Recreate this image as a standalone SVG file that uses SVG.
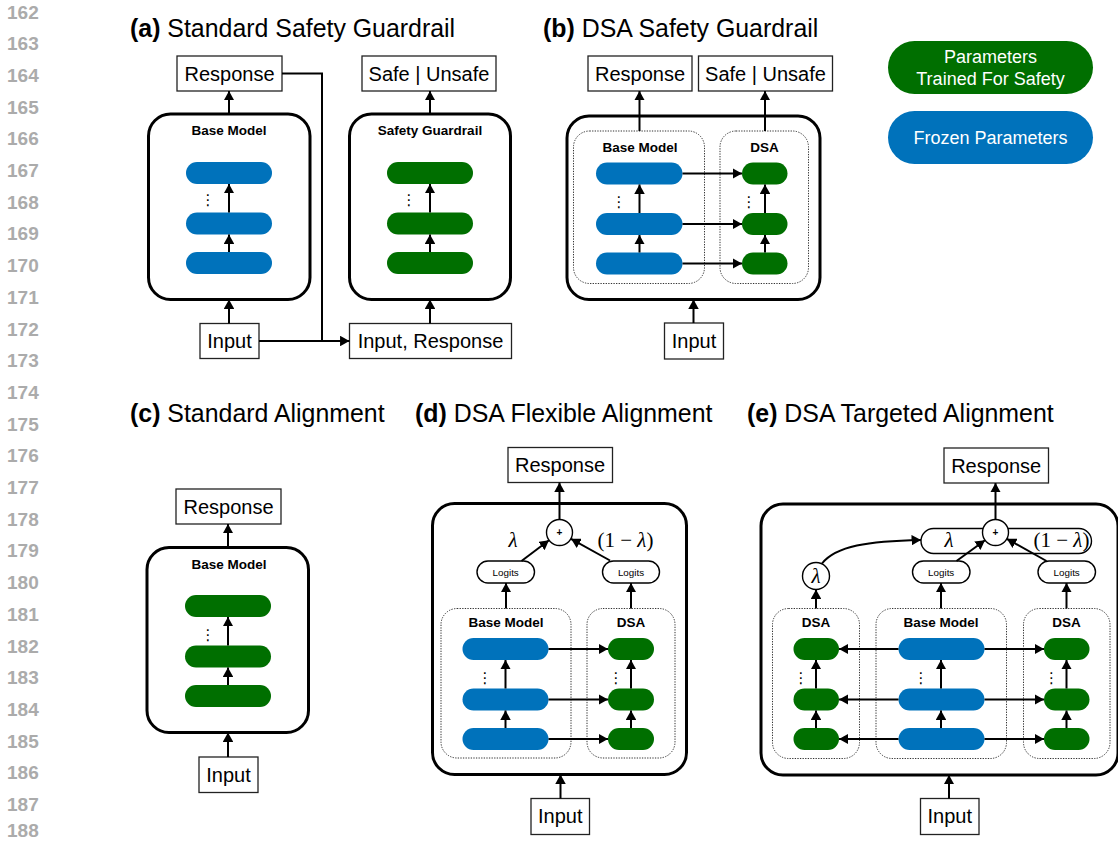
<svg xmlns="http://www.w3.org/2000/svg" width="1118" height="841" viewBox="0 0 1118 841">
<defs>
<marker id="ah" viewBox="0 0 9 10" markerUnits="userSpaceOnUse" markerWidth="9.5" markerHeight="10.5" refX="9" refY="5" orient="auto">
<path d="M0,0 L9,5 L0,10 z" fill="#000"/>
</marker>
<style>
text{font-family:"Liberation Sans",Arial,Helvetica,sans-serif;fill:#000}
.ln{font-weight:bold;font-size:19px;fill:#ababab}
.title{font-size:24.9px}
.title tspan.b{font-weight:bold}
.box{fill:#fff;stroke:#222;stroke-width:1.3}
.bt{font-size:20px;text-anchor:middle}
.cont{fill:#fff;stroke:#000;stroke-width:3}
.dotbox{fill:none;stroke:#333;stroke-width:1;stroke-dasharray:1.3 1.3}
.lbl{font-weight:bold;font-size:13.5px;text-anchor:middle}
.blue{fill:#0072BB}
.green{fill:#006F00}
.arr{stroke:#000;stroke-width:2;fill:none;marker-end:url(#ah)}
.line{stroke:#000;stroke-width:2;fill:none}
.logit{fill:#fff;stroke:#000;stroke-width:1.4}
.lt{font-size:9.8px;text-anchor:middle}
.gk{font-family:"Liberation Serif","Times New Roman",serif;font-style:italic;font-size:21px}
.gr{font-family:"Liberation Serif","Times New Roman",serif;font-size:21px}
.vd{font-family:"DejaVu Sans",sans-serif;font-size:15px;text-anchor:middle;fill:#000}
.plus{font-size:10px;font-weight:bold;text-anchor:middle}
.leg{font-size:18px;fill:#fff;text-anchor:middle}
</style>
</defs>
<rect width="1118" height="841" fill="#fff"/>

<g id="line-numbers">
<text class="ln" x="7" y="18.5">162</text>
<text class="ln" x="7" y="50.2">163</text>
<text class="ln" x="7" y="81.9">164</text>
<text class="ln" x="7" y="113.6">165</text>
<text class="ln" x="7" y="145.3">166</text>
<text class="ln" x="7" y="177">167</text>
<text class="ln" x="7" y="208.7">168</text>
<text class="ln" x="7" y="240.4">169</text>
<text class="ln" x="7" y="272.1">170</text>
<text class="ln" x="7" y="303.8">171</text>
<text class="ln" x="7" y="335.5">172</text>
<text class="ln" x="7" y="367.2">173</text>
<text class="ln" x="7" y="398.9">174</text>
<text class="ln" x="7" y="430.6">175</text>
<text class="ln" x="7" y="462.3">176</text>
<text class="ln" x="7" y="494">177</text>
<text class="ln" x="7" y="525.7">178</text>
<text class="ln" x="7" y="557.4">179</text>
<text class="ln" x="7" y="589.1">180</text>
<text class="ln" x="7" y="620.8">181</text>
<text class="ln" x="7" y="652.5">182</text>
<text class="ln" x="7" y="684.2">183</text>
<text class="ln" x="7" y="715.9">184</text>
<text class="ln" x="7" y="747.6">185</text>
<text class="ln" x="7" y="779.3">186</text>
<text class="ln" x="7" y="811">187</text>
<text class="ln" x="7" y="836.5">188</text>
</g>

<g id="titles">
<text class="title" x="130" y="37"><tspan class="b">(a)</tspan> Standard Safety Guardrail</text>
<text class="title" x="543" y="37"><tspan class="b">(b)</tspan> DSA Safety Guardrail</text>
<text class="title" x="130" y="422"><tspan class="b">(c)</tspan> Standard Alignment</text>
<text class="title" x="415" y="422"><tspan class="b">(d)</tspan> DSA Flexible Alignment</text>
<text class="title" x="747" y="422"><tspan class="b">(e)</tspan> DSA Targeted Alignment</text>
</g>

<g id="legend">
<g id="legend-trained">
<rect x="888" y="41" width="205" height="53" rx="26.5" class="green"/>
<text class="leg" x="990.5" y="63">Parameters</text>
<text class="leg" x="990.5" y="85">Trained For Safety</text>
</g>
<g id="legend-frozen">
<rect x="888" y="111" width="205" height="53" rx="26.5" class="blue"/>
<text class="leg" x="990.5" y="143.5">Frozen Parameters</text>
</g>
</g>

<!-- ================= Panel (a) ================= -->
<g id="a-response"><rect class="box" x="177" y="56" width="105" height="35"/><text class="bt" x="229.5" y="80.5">Response</text></g>
<g id="a-base-model">
<rect class="cont" x="148.5" y="114" width="161.5" height="185.5" rx="22"/>
<text class="lbl" x="229" y="135">Base Model</text>
<rect class="blue" x="186" y="162" width="86" height="22" rx="11"/>
<rect class="blue" x="186" y="212.5" width="86" height="22" rx="11"/>
<rect class="blue" x="186" y="252" width="86" height="22" rx="11"/>
<text class="vd" x="208" y="205">⋮</text>
</g>
<g id="a-input"><rect class="box" x="200" y="323.5" width="59" height="35"/><text class="bt" x="229.5" y="348">Input</text></g>
<g id="a-safety-guardrail">
<rect class="cont" x="349.5" y="114" width="161" height="185.5" rx="22"/>
<text class="lbl" x="430" y="135">Safety Guardrail</text>
<rect class="green" x="387" y="162" width="86" height="22" rx="11"/>
<rect class="green" x="387" y="212.5" width="86" height="22" rx="11"/>
<rect class="green" x="387" y="252" width="86" height="22" rx="11"/>
<text class="vd" x="409" y="205">⋮</text>
</g>
<g id="a-safe-unsafe"><rect class="box" x="362" y="56" width="134" height="35"/><text class="bt" x="429" y="80.5">Safe | Unsafe</text></g>
<g id="a-input-response"><rect class="box" x="349.5" y="323.5" width="162" height="35"/><text class="bt" x="430.5" y="348">Input, Response</text></g>

<!-- ================= Panel (b) ================= -->
<g id="b-response"><rect class="box" x="588" y="56" width="104" height="35"/><text class="bt" x="640" y="80.5">Response</text></g>
<g id="b-safe-unsafe"><rect class="box" x="698.5" y="56" width="134" height="35"/><text class="bt" x="765.5" y="80.5">Safe | Unsafe</text></g>
<g id="b-container">
<rect class="cont" x="567" y="116" width="253" height="183.5" rx="22"/>
</g>
<g id="b-base-model">
<rect class="dotbox" x="573.5" y="131" width="131" height="152.5" rx="16"/>
<text class="lbl" x="640" y="152">Base Model</text>
<rect class="blue" x="596" y="162.5" width="86.5" height="22" rx="11"/>
<rect class="blue" x="596" y="213" width="86.5" height="22" rx="11"/>
<rect class="blue" x="596" y="252.5" width="86.5" height="22" rx="11"/>
<text class="vd" x="619" y="207">⋮</text>
</g>
<g id="b-dsa">
<rect class="dotbox" x="720" y="131" width="88.5" height="152.5" rx="16"/>
<text class="lbl" x="764.5" y="152">DSA</text>
<rect class="green" x="742" y="162.5" width="45.5" height="22" rx="11"/>
<rect class="green" x="742" y="213" width="45.5" height="22" rx="11"/>
<rect class="green" x="742" y="252.5" width="45.5" height="22" rx="11"/>
<text class="vd" x="749" y="207">⋮</text>
</g>
<g id="b-input"><rect class="box" x="664.5" y="323" width="59" height="36"/><text class="bt" x="694" y="348">Input</text></g>

<!-- ================= Panel (c) ================= -->
<g id="c-response"><rect class="box" x="176" y="489" width="105" height="35"/><text class="bt" x="228.5" y="513.5">Response</text></g>
<g id="c-base-model">
<rect class="cont" x="147" y="547.5" width="161.5" height="185" rx="22"/>
<text class="lbl" x="229" y="569">Base Model</text>
<rect class="green" x="185" y="595" width="86" height="22" rx="11"/>
<rect class="green" x="185" y="645.5" width="86" height="22" rx="11"/>
<rect class="green" x="185" y="685" width="86" height="22" rx="11"/>
<text class="vd" x="208" y="640">⋮</text>
</g>
<g id="c-input"><rect class="box" x="199" y="757" width="59" height="35.5"/><text class="bt" x="228.5" y="782">Input</text></g>

<!-- ================= Panel (d) ================= -->
<g id="d-response"><rect class="box" x="508" y="447.5" width="104.5" height="35"/><text class="bt" x="560" y="472">Response</text></g>
<g id="d-container">
<rect class="cont" x="432.5" y="503.5" width="254" height="271" rx="22"/>
</g>
<g id="d-sum">
<circle cx="559.5" cy="532.5" r="13" fill="#fff" stroke="#000" stroke-width="1.4"/>
<text class="plus" x="559.5" y="536">+</text>
</g>
<g id="d-weights">
<text class="gk" x="513" y="547" text-anchor="middle">λ</text>
<text class="gr" x="625.5" y="547" text-anchor="middle">(1 − <tspan font-style="italic">λ</tspan>)</text>
</g>
<g id="d-logits-base"><rect class="logit" x="477" y="561" width="57.5" height="22" rx="11"/><text class="lt" x="505.7" y="575.5">Logits</text></g>
<g id="d-logits-dsa"><rect class="logit" x="602.5" y="561" width="57" height="22" rx="11"/><text class="lt" x="631" y="575.5">Logits</text></g>
<g id="d-base-model">
<rect class="dotbox" x="441" y="608.5" width="130" height="149.5" rx="16"/>
<text class="lbl" x="506" y="627">Base Model</text>
<rect class="blue" x="462.5" y="638" width="86" height="22" rx="11"/>
<rect class="blue" x="462.5" y="688.5" width="86" height="22" rx="11"/>
<rect class="blue" x="462.5" y="728" width="86" height="22" rx="11"/>
<text class="vd" x="485" y="683">⋮</text>
</g>
<g id="d-dsa">
<rect class="dotbox" x="587" y="608.5" width="88" height="149.5" rx="16"/>
<text class="lbl" x="631" y="627">DSA</text>
<rect class="green" x="608" y="638" width="46" height="22" rx="11"/>
<rect class="green" x="608" y="688.5" width="46" height="22" rx="11"/>
<rect class="green" x="608" y="728" width="46" height="22" rx="11"/>
<text class="vd" x="616" y="683">⋮</text>
</g>
<g id="d-input"><rect class="box" x="531" y="798.5" width="58.5" height="36"/><text class="bt" x="560.2" y="823">Input</text></g>

<!-- ================= Panel (e) ================= -->
<g id="e-response"><rect class="box" x="944" y="448" width="104.5" height="35"/><text class="bt" x="996.2" y="472.5">Response</text></g>
<g id="e-container">
<rect class="cont" x="761" y="504" width="357" height="271" rx="22"/>
</g>
<g id="e-weights">
<rect class="logit" x="921" y="528.5" width="170.5" height="25" rx="12.5"/>
<text class="gk" x="949" y="547" text-anchor="middle">λ</text>
<text class="gr" x="1061.5" y="547" text-anchor="middle">(1 − <tspan font-style="italic">λ</tspan>)</text>
</g>
<g id="e-sum">
<circle cx="995.5" cy="532.5" r="13" fill="#fff" stroke="#000" stroke-width="1.4"/>
<text class="plus" x="995.5" y="536">+</text>
</g>
<g id="e-lambda">
<circle cx="816" cy="576" r="13.5" fill="#fff" stroke="#000" stroke-width="1.4"/>
<text class="gk" x="816" y="583" text-anchor="middle">λ</text>
</g>
<g id="e-logits-base"><rect class="logit" x="912.5" y="561" width="57.5" height="22" rx="11"/><text class="lt" x="941.2" y="575.5">Logits</text></g>
<g id="e-logits-dsa"><rect class="logit" x="1038" y="561" width="57.5" height="22" rx="11"/><text class="lt" x="1066.7" y="575.5">Logits</text></g>
<g id="e-dsa-left">
<rect class="dotbox" x="772.5" y="608.5" width="87" height="150" rx="16"/>
<text class="lbl" x="816" y="627">DSA</text>
<rect class="green" x="793.5" y="638" width="45.5" height="22" rx="11"/>
<rect class="green" x="793.5" y="688.5" width="45.5" height="22" rx="11"/>
<rect class="green" x="793.5" y="728" width="45.5" height="22" rx="11"/>
<text class="vd" x="801" y="683">⋮</text>
</g>
<g id="e-base-model">
<rect class="dotbox" x="876" y="608.5" width="130.5" height="150" rx="16"/>
<text class="lbl" x="941" y="627">Base Model</text>
<rect class="blue" x="898.5" y="638" width="86" height="22" rx="11"/>
<rect class="blue" x="898.5" y="688.5" width="86" height="22" rx="11"/>
<rect class="blue" x="898.5" y="728" width="86" height="22" rx="11"/>
<text class="vd" x="921" y="683">⋮</text>
</g>
<g id="e-dsa-right">
<rect class="dotbox" x="1023.5" y="608.5" width="86.5" height="150" rx="16"/>
<text class="lbl" x="1066.5" y="627">DSA</text>
<rect class="green" x="1044" y="638" width="45.5" height="22" rx="11"/>
<rect class="green" x="1044" y="688.5" width="45.5" height="22" rx="11"/>
<rect class="green" x="1044" y="728" width="45.5" height="22" rx="11"/>
<text class="vd" x="1051.5" y="683">⋮</text>
</g>
<g id="e-input"><rect class="box" x="920.5" y="798.5" width="58.5" height="36"/><text class="bt" x="949.7" y="823">Input</text></g>

<g id="connectors">
<!-- (a) -->
<line class="arr" x1="229" y1="114" x2="229" y2="91"/>
<line class="arr" x1="229" y1="252" x2="229" y2="234.5"/>
<line class="arr" x1="229" y1="212.5" x2="229" y2="184"/>
<line class="arr" x1="229" y1="323.5" x2="229" y2="299.5"/>
<line class="arr" x1="430" y1="252" x2="430" y2="234.5"/>
<line class="arr" x1="430" y1="212.5" x2="430" y2="184"/>
<line class="arr" x1="430" y1="323.5" x2="430" y2="299.5"/>
<line class="arr" x1="430" y1="114" x2="430" y2="91"/>
<polyline class="line" points="282,73.5 322,73.5 322,341"/>
<line class="arr" x1="259" y1="341" x2="349.5" y2="341"/>
<!-- (b) -->
<line class="arr" x1="639.5" y1="131" x2="639.5" y2="91"/>
<line class="arr" x1="765" y1="131" x2="765" y2="91"/>
<line class="arr" x1="639.5" y1="252.5" x2="639.5" y2="235"/>
<line class="arr" x1="639.5" y1="213" x2="639.5" y2="184.5"/>
<line class="arr" x1="765" y1="252.5" x2="765" y2="235"/>
<line class="arr" x1="765" y1="213" x2="765" y2="184.5"/>
<line class="arr" x1="682.5" y1="173.5" x2="742" y2="173.5"/>
<line class="arr" x1="682.5" y1="224" x2="742" y2="224"/>
<line class="arr" x1="682.5" y1="263.5" x2="742" y2="263.5"/>
<line class="arr" x1="693.5" y1="323" x2="693.5" y2="299.5"/>
<!-- (c) -->
<line class="arr" x1="228" y1="547.5" x2="228" y2="524"/>
<line class="arr" x1="228" y1="685" x2="228" y2="667.5"/>
<line class="arr" x1="228" y1="645.5" x2="228" y2="617"/>
<line class="arr" x1="228" y1="757" x2="228" y2="732.5"/>
<!-- (d) -->
<line class="arr" x1="559.5" y1="519.5" x2="559.5" y2="482.5"/>
<line class="arr" x1="521.5" y1="561" x2="549" y2="540.3"/>
<line class="arr" x1="610" y1="560.5" x2="571" y2="538.8"/>
<line class="arr" x1="506" y1="608.5" x2="506" y2="583"/>
<line class="arr" x1="631" y1="608.5" x2="631" y2="583"/>
<line class="arr" x1="505.5" y1="728" x2="505.5" y2="710.5"/>
<line class="arr" x1="505.5" y1="688.5" x2="505.5" y2="660"/>
<line class="arr" x1="631" y1="728" x2="631" y2="710.5"/>
<line class="arr" x1="631" y1="688.5" x2="631" y2="660"/>
<line class="arr" x1="548.5" y1="649" x2="608" y2="649"/>
<line class="arr" x1="548.5" y1="699.5" x2="608" y2="699.5"/>
<line class="arr" x1="548.5" y1="739" x2="608" y2="739"/>
<line class="arr" x1="560.5" y1="798.5" x2="560.5" y2="774.5"/>
<!-- (e) -->
<line class="arr" x1="995.5" y1="519.5" x2="995.5" y2="483"/>
<path class="arr" d="M822,563.5 C836,546 868,541 921,540"/>
<line class="arr" x1="956.5" y1="561" x2="985" y2="540.2"/>
<line class="arr" x1="1046.5" y1="561" x2="1006.8" y2="538.8"/>
<line class="arr" x1="816" y1="608.5" x2="816" y2="589.5"/>
<line class="arr" x1="941" y1="608.5" x2="941" y2="583"/>
<line class="arr" x1="1066.5" y1="608.5" x2="1066.5" y2="583"/>
<line class="arr" x1="816" y1="728" x2="816" y2="710.5"/>
<line class="arr" x1="816" y1="688.5" x2="816" y2="660"/>
<line class="arr" x1="941" y1="728" x2="941" y2="710.5"/>
<line class="arr" x1="941" y1="688.5" x2="941" y2="660"/>
<line class="arr" x1="1066.5" y1="728" x2="1066.5" y2="710.5"/>
<line class="arr" x1="1066.5" y1="688.5" x2="1066.5" y2="660"/>
<line class="arr" x1="898.5" y1="649" x2="839" y2="649"/>
<line class="arr" x1="898.5" y1="699.5" x2="839" y2="699.5"/>
<line class="arr" x1="898.5" y1="739" x2="839" y2="739"/>
<line class="arr" x1="984.5" y1="649" x2="1044" y2="649"/>
<line class="arr" x1="984.5" y1="699.5" x2="1044" y2="699.5"/>
<line class="arr" x1="984.5" y1="739" x2="1044" y2="739"/>
<line class="arr" x1="949" y1="798.5" x2="949" y2="775"/>
</g>
</svg>
